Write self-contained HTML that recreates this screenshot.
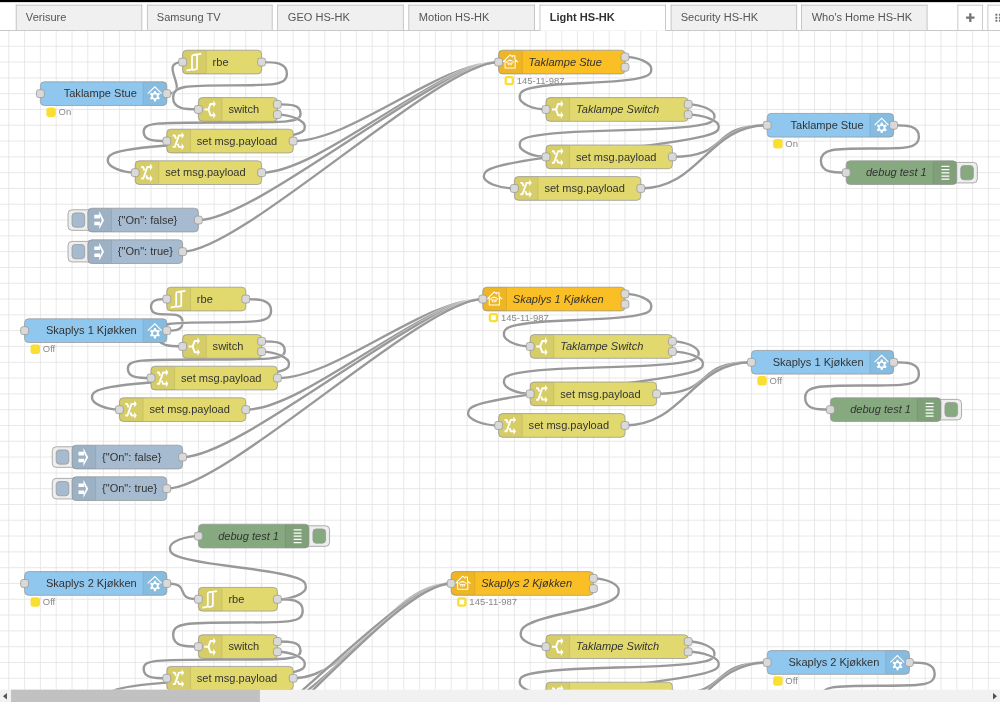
<!DOCTYPE html>
<html><head><meta charset="utf-8"><style>
html,body{margin:0;padding:0;background:#fff;overflow:hidden;width:1000px;height:702px}
#wrap{filter:blur(0.3px);position:absolute;left:0;top:0;width:1265.82px;height:888.61px;transform:scale(0.79);transform-origin:0 0;font-family:"Liberation Sans",sans-serif;overflow:hidden}
#hdr{position:absolute;left:0;top:0;right:0;height:2.6px;background:#000}
#tabs{position:absolute;left:0;top:2.6px;right:0;height:35.96px;box-sizing:border-box;border-bottom:1px solid #bbb;background:#fff}
.tab{position:absolute;top:3.9px;height:31.06px;box-sizing:border-box;border:1px solid #bbb;border-bottom:none;background:#f0f0f0;color:#555;font-size:14px;line-height:30px;padding-left:12px;white-space:nowrap}
.tab.act{background:#fff;color:#333;font-weight:bold;height:32.06px}
.btn{position:absolute;top:3.9px;height:31.06px;box-sizing:border-box;border:1px solid #bbb;border-bottom:none;background:#fff}
#chart{position:absolute;left:0;top:0}
.nl{font-size:14px;fill:#333}
.sl{font-size:12px;fill:#888}
.port{fill:#d9d9d9;stroke:#999;stroke-width:1}
.lo{stroke:#fff;stroke-width:5;fill:none;stroke-opacity:0.4}
.ll{stroke:#999;stroke-width:3;fill:none}
#sb{position:absolute;left:0;top:873.3px;width:100%;height:15.4px;background:#f1f1f1}
#thumb{position:absolute;left:14.05px;top:0;width:314.8px;height:15.4px;background:#c1c1c1}
</style></head><body><div id="wrap">
<svg id="chart" width="1265.82" height="888.61" viewBox="0 0 1265.82 888.61" font-family="Liberation Sans, sans-serif"><path d="M11.14 38.56 V888.61 M31.14 38.56 V888.61 M51.14 38.56 V888.61 M71.14 38.56 V888.61 M91.14 38.56 V888.61 M111.14 38.56 V888.61 M131.14 38.56 V888.61 M151.14 38.56 V888.61 M171.14 38.56 V888.61 M191.14 38.56 V888.61 M211.14 38.56 V888.61 M231.14 38.56 V888.61 M251.14 38.56 V888.61 M271.14 38.56 V888.61 M291.14 38.56 V888.61 M311.14 38.56 V888.61 M331.14 38.56 V888.61 M351.14 38.56 V888.61 M371.14 38.56 V888.61 M391.14 38.56 V888.61 M411.14 38.56 V888.61 M431.14 38.56 V888.61 M451.14 38.56 V888.61 M471.14 38.56 V888.61 M491.14 38.56 V888.61 M511.14 38.56 V888.61 M531.14 38.56 V888.61 M551.14 38.56 V888.61 M571.14 38.56 V888.61 M591.14 38.56 V888.61 M611.14 38.56 V888.61 M631.14 38.56 V888.61 M651.14 38.56 V888.61 M671.14 38.56 V888.61 M691.14 38.56 V888.61 M711.14 38.56 V888.61 M731.14 38.56 V888.61 M751.14 38.56 V888.61 M771.14 38.56 V888.61 M791.14 38.56 V888.61 M811.14 38.56 V888.61 M831.14 38.56 V888.61 M851.14 38.56 V888.61 M871.14 38.56 V888.61 M891.14 38.56 V888.61 M911.14 38.56 V888.61 M931.14 38.56 V888.61 M951.14 38.56 V888.61 M971.14 38.56 V888.61 M991.14 38.56 V888.61 M1011.14 38.56 V888.61 M1031.14 38.56 V888.61 M1051.14 38.56 V888.61 M1071.14 38.56 V888.61 M1091.14 38.56 V888.61 M1111.14 38.56 V888.61 M1131.14 38.56 V888.61 M1151.14 38.56 V888.61 M1171.14 38.56 V888.61 M1191.14 38.56 V888.61 M1211.14 38.56 V888.61 M1231.14 38.56 V888.61 M1251.14 38.56 V888.61 M0 38.56 H1265.82 M0 58.56 H1265.82 M0 78.56 H1265.82 M0 98.56 H1265.82 M0 118.56 H1265.82 M0 138.56 H1265.82 M0 158.56 H1265.82 M0 178.56 H1265.82 M0 198.56 H1265.82 M0 218.56 H1265.82 M0 238.56 H1265.82 M0 258.56 H1265.82 M0 278.56 H1265.82 M0 298.56 H1265.82 M0 318.56 H1265.82 M0 338.56 H1265.82 M0 358.56 H1265.82 M0 378.56 H1265.82 M0 398.56 H1265.82 M0 418.56 H1265.82 M0 438.56 H1265.82 M0 458.56 H1265.82 M0 478.56 H1265.82 M0 498.56 H1265.82 M0 518.56 H1265.82 M0 538.56 H1265.82 M0 558.56 H1265.82 M0 578.56 H1265.82 M0 598.56 H1265.82 M0 618.56 H1265.82 M0 638.56 H1265.82 M0 658.56 H1265.82 M0 678.56 H1265.82 M0 698.56 H1265.82 M0 718.56 H1265.82 M0 738.56 H1265.82 M0 758.56 H1265.82 M0 778.56 H1265.82 M0 798.56 H1265.82 M0 818.56 H1265.82 M0 838.56 H1265.82 M0 858.56 H1265.82 M0 878.56 H1265.82" stroke="#e2e2e2" stroke-width="1" fill="none"/><path d="M 211.14 118.56 C 244.68 118.56 197.60 78.56 231.14 78.56" class="lo"/><path d="M 211.14 118.56 C 244.68 118.56 197.60 78.56 231.14 78.56" class="ll"/><path d="M 331.14 78.56 C 347.14 78.56 363.14 78.56 363.14 93.28 S 347.14 108.00 291.00 108.00 S 219.14 108.56 219.14 123.56 S 235.14 138.56 251.14 138.56" class="lo"/><path d="M 331.14 78.56 C 347.14 78.56 363.14 78.56 363.14 93.28 S 347.14 108.00 291.00 108.00 S 219.14 108.56 219.14 123.56 S 235.14 138.56 251.14 138.56" class="ll"/><path d="M 351.14 132.06 C 365.79 132.06 380.44 132.06 380.44 143.53 S 365.79 155.00 281.00 155.00 S 181.84 155.00 181.84 166.78 S 196.49 178.56 211.14 178.56" class="lo"/><path d="M 351.14 132.06 C 365.79 132.06 380.44 132.06 380.44 143.53 S 365.79 155.00 281.00 155.00 S 181.84 155.00 181.84 166.78 S 196.49 178.56 211.14 178.56" class="ll"/><path d="M 351.14 145.06 C 368.49 145.06 385.84 152.56 385.84 160.06 S 385.84 175.06 261.00 181.00 S 136.44 196.06 136.44 203.56 S 153.79 218.56 171.14 218.56" class="lo"/><path d="M 351.14 145.06 C 368.49 145.06 385.84 152.56 385.84 160.06 S 385.84 175.06 261.00 181.00 S 136.44 196.06 136.44 203.56 S 153.79 218.56 171.14 218.56" class="ll"/><path d="M 371.14 178.56 C 446.14 178.56 556.14 78.56 631.14 78.56" class="lo"/><path d="M 371.14 178.56 C 446.14 178.56 556.14 78.56 631.14 78.56" class="ll"/><path d="M 331.14 218.56 C 406.14 218.56 556.14 78.56 631.14 78.56" class="lo"/><path d="M 331.14 218.56 C 406.14 218.56 556.14 78.56 631.14 78.56" class="ll"/><path d="M 251.14 278.56 C 326.14 278.56 556.14 78.56 631.14 78.56" class="lo"/><path d="M 251.14 278.56 C 326.14 278.56 556.14 78.56 631.14 78.56" class="ll"/><path d="M 231.14 318.56 C 306.14 318.56 556.14 78.56 631.14 78.56" class="lo"/><path d="M 231.14 318.56 C 306.14 318.56 556.14 78.56 631.14 78.56" class="ll"/><path d="M 791.14 72.06 C 807.79 72.06 824.44 79.56 824.44 87.06 S 824.44 102.06 741.00 105.00 S 657.84 116.06 657.84 123.56 S 674.49 138.56 691.14 138.56" class="lo"/><path d="M 791.14 72.06 C 807.79 72.06 824.44 79.56 824.44 87.06 S 824.44 102.06 741.00 105.00 S 657.84 116.06 657.84 123.56 S 674.49 138.56 691.14 138.56" class="ll"/><path d="M 871.14 132.06 C 887.79 132.06 904.44 139.56 904.44 147.06 S 904.44 162.06 781.00 165.00 S 657.84 176.06 657.84 183.56 S 674.49 198.56 691.14 198.56" class="lo"/><path d="M 871.14 132.06 C 887.79 132.06 904.44 139.56 904.44 147.06 S 904.44 162.06 781.00 165.00 S 657.84 176.06 657.84 183.56 S 674.49 198.56 691.14 198.56" class="ll"/><path d="M 871.14 145.06 C 890.49 145.06 909.84 152.56 909.84 160.06 S 909.84 175.06 761.00 191.00 S 612.44 216.06 612.44 223.56 S 631.79 238.56 651.14 238.56" class="lo"/><path d="M 871.14 145.06 C 890.49 145.06 909.84 152.56 909.84 160.06 S 909.84 175.06 761.00 191.00 S 612.44 216.06 612.44 223.56 S 631.79 238.56 651.14 238.56" class="ll"/><path d="M 851.14 198.56 C 926.14 198.56 896.14 158.56 971.14 158.56" class="lo"/><path d="M 851.14 198.56 C 926.14 198.56 896.14 158.56 971.14 158.56" class="ll"/><path d="M 811.14 238.56 C 886.14 238.56 896.14 158.56 971.14 158.56" class="lo"/><path d="M 811.14 238.56 C 886.14 238.56 896.14 158.56 971.14 158.56" class="ll"/><path d="M 1131.14 158.56 C 1147.14 158.56 1163.14 158.56 1163.14 173.28 S 1147.14 188.00 1101.00 188.00 S 1039.14 188.56 1039.14 203.56 S 1055.14 218.56 1071.14 218.56" class="lo"/><path d="M 1131.14 158.56 C 1147.14 158.56 1163.14 158.56 1163.14 173.28 S 1147.14 188.00 1101.00 188.00 S 1039.14 188.56 1039.14 203.56 S 1055.14 218.56 1071.14 218.56" class="ll"/><path d="M 211.14 418.56 C 221.14 418.56 231.14 418.56 231.14 408.28 S 221.14 398.00 211.00 398.00 S 191.14 398.00 191.14 388.28 S 201.14 378.56 211.14 378.56" class="lo"/><path d="M 211.14 418.56 C 221.14 418.56 231.14 418.56 231.14 408.28 S 221.14 398.00 211.00 398.00 S 191.14 398.00 191.14 388.28 S 201.14 378.56 211.14 378.56" class="ll"/><path d="M 311.14 378.56 C 327.14 378.56 343.14 378.56 343.14 393.28 S 327.14 408.00 271.00 408.00 S 199.14 408.56 199.14 423.56 S 215.14 438.56 231.14 438.56" class="lo"/><path d="M 311.14 378.56 C 327.14 378.56 343.14 378.56 343.14 393.28 S 327.14 408.00 271.00 408.00 S 199.14 408.56 199.14 423.56 S 215.14 438.56 231.14 438.56" class="ll"/><path d="M 331.14 432.06 C 345.79 432.06 360.44 432.06 360.44 443.53 S 345.79 455.00 261.00 455.00 S 161.84 455.00 161.84 466.78 S 176.49 478.56 191.14 478.56" class="lo"/><path d="M 331.14 432.06 C 345.79 432.06 360.44 432.06 360.44 443.53 S 345.79 455.00 261.00 455.00 S 161.84 455.00 161.84 466.78 S 176.49 478.56 191.14 478.56" class="ll"/><path d="M 331.14 445.06 C 348.49 445.06 365.84 452.56 365.84 460.06 S 365.84 475.06 241.00 481.00 S 116.44 496.06 116.44 503.56 S 133.79 518.56 151.14 518.56" class="lo"/><path d="M 331.14 445.06 C 348.49 445.06 365.84 452.56 365.84 460.06 S 365.84 475.06 241.00 481.00 S 116.44 496.06 116.44 503.56 S 133.79 518.56 151.14 518.56" class="ll"/><path d="M 351.14 478.56 C 426.14 478.56 536.14 378.56 611.14 378.56" class="lo"/><path d="M 351.14 478.56 C 426.14 478.56 536.14 378.56 611.14 378.56" class="ll"/><path d="M 311.14 518.56 C 386.14 518.56 536.14 378.56 611.14 378.56" class="lo"/><path d="M 311.14 518.56 C 386.14 518.56 536.14 378.56 611.14 378.56" class="ll"/><path d="M 231.14 578.56 C 306.14 578.56 536.14 378.56 611.14 378.56" class="lo"/><path d="M 231.14 578.56 C 306.14 578.56 536.14 378.56 611.14 378.56" class="ll"/><path d="M 211.14 618.56 C 286.14 618.56 536.14 378.56 611.14 378.56" class="lo"/><path d="M 211.14 618.56 C 286.14 618.56 536.14 378.56 611.14 378.56" class="ll"/><path d="M 791.14 372.06 C 807.79 372.06 824.44 379.56 824.44 387.06 S 824.44 402.06 731.00 405.00 S 637.84 416.06 637.84 423.56 S 654.49 438.56 671.14 438.56" class="lo"/><path d="M 791.14 372.06 C 807.79 372.06 824.44 379.56 824.44 387.06 S 824.44 402.06 731.00 405.00 S 637.84 416.06 637.84 423.56 S 654.49 438.56 671.14 438.56" class="ll"/><path d="M 851.14 432.06 C 867.79 432.06 884.44 439.56 884.44 447.06 S 884.44 462.06 761.00 465.00 S 637.84 476.06 637.84 483.56 S 654.49 498.56 671.14 498.56" class="lo"/><path d="M 851.14 432.06 C 867.79 432.06 884.44 439.56 884.44 447.06 S 884.44 462.06 761.00 465.00 S 637.84 476.06 637.84 483.56 S 654.49 498.56 671.14 498.56" class="ll"/><path d="M 851.14 445.06 C 870.49 445.06 889.84 452.56 889.84 460.06 S 889.84 475.06 741.00 491.00 S 592.44 516.06 592.44 523.56 S 611.79 538.56 631.14 538.56" class="lo"/><path d="M 851.14 445.06 C 870.49 445.06 889.84 452.56 889.84 460.06 S 889.84 475.06 741.00 491.00 S 592.44 516.06 592.44 523.56 S 611.79 538.56 631.14 538.56" class="ll"/><path d="M 831.14 498.56 C 906.14 498.56 876.14 458.56 951.14 458.56" class="lo"/><path d="M 831.14 498.56 C 906.14 498.56 876.14 458.56 951.14 458.56" class="ll"/><path d="M 791.14 538.56 C 866.14 538.56 876.14 458.56 951.14 458.56" class="lo"/><path d="M 791.14 538.56 C 866.14 538.56 876.14 458.56 951.14 458.56" class="ll"/><path d="M 1131.14 458.56 C 1147.14 458.56 1163.14 458.56 1163.14 473.28 S 1147.14 488.00 1091.00 488.00 S 1019.14 488.56 1019.14 503.56 S 1035.14 518.56 1051.14 518.56" class="lo"/><path d="M 1131.14 458.56 C 1147.14 458.56 1163.14 458.56 1163.14 473.28 S 1147.14 488.00 1091.00 488.00 S 1019.14 488.56 1019.14 503.56 S 1035.14 518.56 1051.14 518.56" class="ll"/><path d="M 211.14 738.56 C 244.68 738.56 217.60 758.56 251.14 758.56" class="lo"/><path d="M 211.14 738.56 C 244.68 738.56 217.60 758.56 251.14 758.56" class="ll"/><path d="M 351.14 758.56 C 369.14 758.56 387.14 751.06 387.14 743.56 S 387.14 728.56 301.00 718.00 S 215.14 701.06 215.14 693.56 S 233.14 678.56 251.14 678.56" class="lo"/><path d="M 351.14 758.56 C 369.14 758.56 387.14 751.06 387.14 743.56 S 387.14 728.56 301.00 718.00 S 215.14 701.06 215.14 693.56 S 233.14 678.56 251.14 678.56" class="ll"/><path d="M 351.14 758.56 C 367.14 758.56 383.14 758.56 383.14 773.28 S 367.14 788.00 301.00 788.00 S 219.14 788.56 219.14 803.56 S 235.14 818.56 251.14 818.56" class="lo"/><path d="M 351.14 758.56 C 367.14 758.56 383.14 758.56 383.14 773.28 S 367.14 788.00 301.00 788.00 S 219.14 788.56 219.14 803.56 S 235.14 818.56 251.14 818.56" class="ll"/><path d="M 351.14 812.06 C 365.79 812.06 380.44 812.06 380.44 823.53 S 365.79 835.00 281.00 835.00 S 181.84 835.00 181.84 846.78 S 196.49 858.56 211.14 858.56" class="lo"/><path d="M 351.14 812.06 C 365.79 812.06 380.44 812.06 380.44 823.53 S 365.79 835.00 281.00 835.00 S 181.84 835.00 181.84 846.78 S 196.49 858.56 211.14 858.56" class="ll"/><path d="M 351.14 825.06 C 368.49 825.06 385.84 832.56 385.84 840.06 S 385.84 855.06 261.00 861.00 S 136.44 876.06 136.44 883.56 S 153.79 898.56 171.14 898.56" class="lo"/><path d="M 351.14 825.06 C 368.49 825.06 385.84 832.56 385.84 840.06 S 385.84 855.06 261.00 861.00 S 136.44 876.06 136.44 883.56 S 153.79 898.56 171.14 898.56" class="ll"/><path d="M 371.14 858.56 C 446.14 858.56 496.14 738.56 571.14 738.56" class="lo"/><path d="M 371.14 858.56 C 446.14 858.56 496.14 738.56 571.14 738.56" class="ll"/><path d="M 331.14 898.56 C 406.14 898.56 496.14 738.56 571.14 738.56" class="lo"/><path d="M 331.14 898.56 C 406.14 898.56 496.14 738.56 571.14 738.56" class="ll"/><path d="M 251.14 958.56 C 326.14 958.56 496.14 738.56 571.14 738.56" class="lo"/><path d="M 251.14 958.56 C 326.14 958.56 496.14 738.56 571.14 738.56" class="ll"/><path d="M 231.14 998.56 C 306.14 998.56 496.14 738.56 571.14 738.56" class="lo"/><path d="M 231.14 998.56 C 306.14 998.56 496.14 738.56 571.14 738.56" class="ll"/><path d="M 751.14 732.06 C 767.14 732.06 783.14 739.56 783.14 747.06 S 783.14 762.06 721.00 775.00 S 659.14 796.06 659.14 803.56 S 675.14 818.56 691.14 818.56" class="lo"/><path d="M 751.14 732.06 C 767.14 732.06 783.14 739.56 783.14 747.06 S 783.14 762.06 721.00 775.00 S 659.14 796.06 659.14 803.56 S 675.14 818.56 691.14 818.56" class="ll"/><path d="M 871.14 812.06 C 887.79 812.06 904.44 819.56 904.44 827.06 S 904.44 842.06 781.00 845.00 S 657.84 856.06 657.84 863.56 S 674.49 878.56 691.14 878.56" class="lo"/><path d="M 871.14 812.06 C 887.79 812.06 904.44 819.56 904.44 827.06 S 904.44 842.06 781.00 845.00 S 657.84 856.06 657.84 863.56 S 674.49 878.56 691.14 878.56" class="ll"/><path d="M 871.14 825.06 C 890.49 825.06 909.84 832.56 909.84 840.06 S 909.84 855.06 761.00 871.00 S 612.44 896.06 612.44 903.56 S 631.79 918.56 651.14 918.56" class="lo"/><path d="M 871.14 825.06 C 890.49 825.06 909.84 832.56 909.84 840.06 S 909.84 855.06 761.00 871.00 S 612.44 896.06 612.44 903.56 S 631.79 918.56 651.14 918.56" class="ll"/><path d="M 851.14 878.56 C 926.14 878.56 896.14 838.56 971.14 838.56" class="lo"/><path d="M 851.14 878.56 C 926.14 878.56 896.14 838.56 971.14 838.56" class="ll"/><path d="M 811.14 918.56 C 886.14 918.56 896.14 838.56 971.14 838.56" class="lo"/><path d="M 811.14 918.56 C 886.14 918.56 896.14 838.56 971.14 838.56" class="ll"/><path d="M 1151.14 838.56 C 1167.14 838.56 1183.14 838.56 1183.14 853.28 S 1167.14 868.00 1111.00 868.00 S 1039.14 868.56 1039.14 883.56 S 1055.14 898.56 1071.14 898.56" class="lo"/><path d="M 1151.14 838.56 C 1167.14 838.56 1183.14 838.56 1183.14 853.28 S 1167.14 868.00 1111.00 868.00 S 1039.14 868.56 1039.14 883.56 S 1055.14 898.56 1071.14 898.56" class="ll"/><g transform="translate(51.14 103.56)"><rect width="160" height="30" rx="5" ry="5" fill="#8FC7EE" stroke="#999" stroke-width="1"/><path d="M130 0 H155 A5 5 0 0 1 160 5 V25 A5 5 0 0 1 155 30 H130 Z" fill="#000" fill-opacity="0.05"/><path d="M130 1 V29" stroke="#000" stroke-opacity="0.1" stroke-width="1"/><g transform="translate(130 0)"><path d="M5.9 14.9 L14.9 6.3 L23.5 14.9" fill="none" stroke="#fff" stroke-width="1.4"/><g transform="translate(15 18.2)"><path fill="#fff" fill-rule="evenodd" d="M-1.72 -4.27 L-1.05 -6.62 L1.05 -6.62 L1.72 -4.27 L2.83 -3.62 L5.21 -4.22 L6.25 -2.40 L4.56 -0.64 L4.56 0.64 L6.25 2.40 L5.21 4.22 L2.83 3.62 L1.72 4.27 L1.05 6.62 L-1.05 6.62 L-1.72 4.27 L-2.83 3.62 L-5.21 4.22 L-6.25 2.40 L-4.56 0.64 L-4.56 -0.64 L-6.25 -2.40 L-5.21 -4.22 L-2.83 -3.62 Z M 2.50 0 A 2.50 2.50 0 1 0 -2.50 0 A 2.50 2.50 0 1 0 2.50 0 Z"/></g></g><text x="122" y="14.9" dy=".35em" text-anchor="end" class="nl">Taklampe Stue</text><rect x="-5" y="10" width="10" height="10" rx="3" ry="3" class="port"/><rect x="155" y="10.0" width="10" height="10" rx="3" ry="3" class="port"/><g transform="translate(3 33)"><rect x="6" y="1" width="9" height="9" rx="2" ry="2" fill="#F9DF31" stroke="#F9DF31" stroke-width="3"/><text x="20" y="9.6" class="sl">On</text></g></g><g transform="translate(231.14 63.56)"><rect width="100" height="30" rx="5" ry="5" fill="#E2D96E" stroke="#999" stroke-width="1"/><path d="M5 0 H30 V30 H5 A5 5 0 0 1 0 25 V5 A5 5 0 0 1 5 0 Z" fill="#000" fill-opacity="0.05"/><path d="M30 1 V29" stroke="#000" stroke-opacity="0.1" stroke-width="1"/><g><path d="M5 25.6 L9.8 24.9 Q11.9 24.6 11.9 22.4 L11.9 8 Q11.9 6.1 13.8 6 L17.2 5.6 Q18.3 5.6 18.3 7 L18.3 22.4 Q18.3 24.1 16.6 24.3 L11.9 24.8" fill="none" stroke="#fff" stroke-width="2.2"/><path d="M14.5 5.9 L23.5 4.6" fill="none" stroke="#fff" stroke-width="2.2"/></g><text x="38" y="14.9" dy=".35em" text-anchor="start" class="nl">rbe</text><rect x="-5" y="10" width="10" height="10" rx="3" ry="3" class="port"/><rect x="95" y="10.0" width="10" height="10" rx="3" ry="3" class="port"/></g><g transform="translate(251.14 123.56)"><rect width="100" height="30" rx="5" ry="5" fill="#E2D96E" stroke="#999" stroke-width="1"/><path d="M5 0 H30 V30 H5 A5 5 0 0 1 0 25 V5 A5 5 0 0 1 5 0 Z" fill="#000" fill-opacity="0.05"/><path d="M30 1 V29" stroke="#000" stroke-opacity="0.1" stroke-width="1"/><g><path d="M7.5 15 H12.7 L15.3 7.95 H19.2 M12.7 15 L15.3 22.2 H19.2" fill="none" stroke="#fff" stroke-width="2.5" stroke-linejoin="round"/><path d="M18.8 3.4 L22 7.95 L18.8 12.5 Z M18.8 17.7 L22 22.2 L18.8 26.7 Z" fill="#fff"/></g><text x="38" y="14.9" dy=".35em" text-anchor="start" class="nl">switch</text><rect x="-5" y="10" width="10" height="10" rx="3" ry="3" class="port"/><rect x="95" y="3.5" width="10" height="10" rx="3" ry="3" class="port"/><rect x="95" y="16.5" width="10" height="10" rx="3" ry="3" class="port"/></g><g transform="translate(211.14 163.56)"><rect width="160" height="30" rx="5" ry="5" fill="#E2D96E" stroke="#999" stroke-width="1"/><path d="M5 0 H30 V30 H5 A5 5 0 0 1 0 25 V5 A5 5 0 0 1 5 0 Z" fill="#000" fill-opacity="0.05"/><path d="M30 1 V29" stroke="#000" stroke-opacity="0.1" stroke-width="1"/><g><path d="M7.5 22.4 H10.2 L15.3 7.9 H19.2 M7.5 7.9 H10 L11.6 12 M13.9 18.4 L15.3 22.3 H19.2" fill="none" stroke="#fff" stroke-width="2.4" stroke-linejoin="round"/><path d="M18.8 3.5 L22 7.9 L18.8 12.3 Z M18.8 17.9 L22 22.3 L18.8 26.7 Z" fill="#fff"/></g><text x="38" y="14.9" dy=".35em" text-anchor="start" class="nl">set msg.payload</text><rect x="-5" y="10" width="10" height="10" rx="3" ry="3" class="port"/><rect x="155" y="10.0" width="10" height="10" rx="3" ry="3" class="port"/></g><g transform="translate(171.14 203.56)"><rect width="160" height="30" rx="5" ry="5" fill="#E2D96E" stroke="#999" stroke-width="1"/><path d="M5 0 H30 V30 H5 A5 5 0 0 1 0 25 V5 A5 5 0 0 1 5 0 Z" fill="#000" fill-opacity="0.05"/><path d="M30 1 V29" stroke="#000" stroke-opacity="0.1" stroke-width="1"/><g><path d="M7.5 22.4 H10.2 L15.3 7.9 H19.2 M7.5 7.9 H10 L11.6 12 M13.9 18.4 L15.3 22.3 H19.2" fill="none" stroke="#fff" stroke-width="2.4" stroke-linejoin="round"/><path d="M18.8 3.5 L22 7.9 L18.8 12.3 Z M18.8 17.9 L22 22.3 L18.8 26.7 Z" fill="#fff"/></g><text x="38" y="14.9" dy=".35em" text-anchor="start" class="nl">set msg.payload</text><rect x="-5" y="10" width="10" height="10" rx="3" ry="3" class="port"/><rect x="155" y="10.0" width="10" height="10" rx="3" ry="3" class="port"/></g><g transform="translate(111.14 263.56)"><g transform="translate(-25 2)"><rect width="32" height="26" rx="5" ry="5" fill="#eee" stroke="#999"/><rect x="5" y="4" width="16" height="18" rx="4" ry="4" fill="#A6BBCF" stroke="#999"/></g><rect width="140" height="30" rx="5" ry="5" fill="#A6BBCF" stroke="#999" stroke-width="1"/><path d="M5 0 H30 V30 H5 A5 5 0 0 1 0 25 V5 A5 5 0 0 1 5 0 Z" fill="#000" fill-opacity="0.05"/><path d="M30 1 V29" stroke="#000" stroke-opacity="0.1" stroke-width="1"/><g><path d="M8.2 8.4 H15.4 V12.9 H8.2 Z M8.2 17.2 H15.4 V21.6 H8.2 Z" fill="#fff"/><path d="M14.5 3.6 L20.5 15.1 L14.5 26.6 L14.5 22.4 L17.8 15.1 L14.5 7.8 Z" fill="#fff"/></g><text x="38" y="14.9" dy=".35em" text-anchor="start" class="nl">{&quot;On&quot;: false}</text><rect x="135" y="10.0" width="10" height="10" rx="3" ry="3" class="port"/></g><g transform="translate(111.14 303.56)"><g transform="translate(-25 2)"><rect width="32" height="26" rx="5" ry="5" fill="#eee" stroke="#999"/><rect x="5" y="4" width="16" height="18" rx="4" ry="4" fill="#A6BBCF" stroke="#999"/></g><rect width="120" height="30" rx="5" ry="5" fill="#A6BBCF" stroke="#999" stroke-width="1"/><path d="M5 0 H30 V30 H5 A5 5 0 0 1 0 25 V5 A5 5 0 0 1 5 0 Z" fill="#000" fill-opacity="0.05"/><path d="M30 1 V29" stroke="#000" stroke-opacity="0.1" stroke-width="1"/><g><path d="M8.2 8.4 H15.4 V12.9 H8.2 Z M8.2 17.2 H15.4 V21.6 H8.2 Z" fill="#fff"/><path d="M14.5 3.6 L20.5 15.1 L14.5 26.6 L14.5 22.4 L17.8 15.1 L14.5 7.8 Z" fill="#fff"/></g><text x="38" y="14.9" dy=".35em" text-anchor="start" class="nl">{&quot;On&quot;: true}</text><rect x="115" y="10.0" width="10" height="10" rx="3" ry="3" class="port"/></g><g transform="translate(631.14 63.56)"><rect width="160" height="30" rx="5" ry="5" fill="#FBBF26" stroke="#999" stroke-width="1"/><path d="M5 0 H30 V30 H5 A5 5 0 0 1 0 25 V5 A5 5 0 0 1 5 0 Z" fill="#000" fill-opacity="0.05"/><path d="M30 1 V29" stroke="#000" stroke-opacity="0.1" stroke-width="1"/><g><path d="M8.2 22.4 L8.2 13 L5.6 14.8 L14.6 5.8 L17.4 8.4 L17.6 6.9 L20.6 6.9 L20.6 11.6 L24.2 14.8 L21 13 L21 22.4 Z" fill="none" stroke="#fff" stroke-width="1.3" stroke-linejoin="round"/><ellipse cx="14.4" cy="14.8" rx="4.6" ry="1.7" fill="none" stroke="#fff" stroke-width="1.2"/><path d="M12.4 13.2 Q14.4 11.2 16.4 13.2" fill="#fff" stroke="#fff" stroke-width="0.8"/><path d="M11.8 16.6 L12.6 19 M14.4 16.8 L14.4 19.2 M17 16.6 L16.2 19" stroke="#fff" stroke-width="1.2" fill="none"/></g><text x="38" y="14.9" dy=".35em" text-anchor="start" class="nl" font-style="italic">Taklampe Stue</text><rect x="-5" y="10" width="10" height="10" rx="3" ry="3" class="port"/><rect x="155" y="3.5" width="10" height="10" rx="3" ry="3" class="port"/><rect x="155" y="16.5" width="10" height="10" rx="3" ry="3" class="port"/><g transform="translate(3 33)"><rect x="6" y="1" width="9" height="9" rx="2" ry="2" fill="#fff" stroke="#F9DF31" stroke-width="3"/><text x="20" y="9.6" class="sl">145-11-987</text></g></g><g transform="translate(691.14 123.56)"><rect width="180" height="30" rx="5" ry="5" fill="#E2D96E" stroke="#999" stroke-width="1"/><path d="M5 0 H30 V30 H5 A5 5 0 0 1 0 25 V5 A5 5 0 0 1 5 0 Z" fill="#000" fill-opacity="0.05"/><path d="M30 1 V29" stroke="#000" stroke-opacity="0.1" stroke-width="1"/><g><path d="M7.5 15 H12.7 L15.3 7.95 H19.2 M12.7 15 L15.3 22.2 H19.2" fill="none" stroke="#fff" stroke-width="2.5" stroke-linejoin="round"/><path d="M18.8 3.4 L22 7.95 L18.8 12.5 Z M18.8 17.7 L22 22.2 L18.8 26.7 Z" fill="#fff"/></g><text x="38" y="14.9" dy=".35em" text-anchor="start" class="nl" font-style="italic">Taklampe Switch</text><rect x="-5" y="10" width="10" height="10" rx="3" ry="3" class="port"/><rect x="175" y="3.5" width="10" height="10" rx="3" ry="3" class="port"/><rect x="175" y="16.5" width="10" height="10" rx="3" ry="3" class="port"/></g><g transform="translate(691.14 183.56)"><rect width="160" height="30" rx="5" ry="5" fill="#E2D96E" stroke="#999" stroke-width="1"/><path d="M5 0 H30 V30 H5 A5 5 0 0 1 0 25 V5 A5 5 0 0 1 5 0 Z" fill="#000" fill-opacity="0.05"/><path d="M30 1 V29" stroke="#000" stroke-opacity="0.1" stroke-width="1"/><g><path d="M7.5 22.4 H10.2 L15.3 7.9 H19.2 M7.5 7.9 H10 L11.6 12 M13.9 18.4 L15.3 22.3 H19.2" fill="none" stroke="#fff" stroke-width="2.4" stroke-linejoin="round"/><path d="M18.8 3.5 L22 7.9 L18.8 12.3 Z M18.8 17.9 L22 22.3 L18.8 26.7 Z" fill="#fff"/></g><text x="38" y="14.9" dy=".35em" text-anchor="start" class="nl">set msg.payload</text><rect x="-5" y="10" width="10" height="10" rx="3" ry="3" class="port"/><rect x="155" y="10.0" width="10" height="10" rx="3" ry="3" class="port"/></g><g transform="translate(651.14 223.56)"><rect width="160" height="30" rx="5" ry="5" fill="#E2D96E" stroke="#999" stroke-width="1"/><path d="M5 0 H30 V30 H5 A5 5 0 0 1 0 25 V5 A5 5 0 0 1 5 0 Z" fill="#000" fill-opacity="0.05"/><path d="M30 1 V29" stroke="#000" stroke-opacity="0.1" stroke-width="1"/><g><path d="M7.5 22.4 H10.2 L15.3 7.9 H19.2 M7.5 7.9 H10 L11.6 12 M13.9 18.4 L15.3 22.3 H19.2" fill="none" stroke="#fff" stroke-width="2.4" stroke-linejoin="round"/><path d="M18.8 3.5 L22 7.9 L18.8 12.3 Z M18.8 17.9 L22 22.3 L18.8 26.7 Z" fill="#fff"/></g><text x="38" y="14.9" dy=".35em" text-anchor="start" class="nl">set msg.payload</text><rect x="-5" y="10" width="10" height="10" rx="3" ry="3" class="port"/><rect x="155" y="10.0" width="10" height="10" rx="3" ry="3" class="port"/></g><g transform="translate(971.14 143.56)"><rect width="160" height="30" rx="5" ry="5" fill="#8FC7EE" stroke="#999" stroke-width="1"/><path d="M130 0 H155 A5 5 0 0 1 160 5 V25 A5 5 0 0 1 155 30 H130 Z" fill="#000" fill-opacity="0.05"/><path d="M130 1 V29" stroke="#000" stroke-opacity="0.1" stroke-width="1"/><g transform="translate(130 0)"><path d="M5.9 14.9 L14.9 6.3 L23.5 14.9" fill="none" stroke="#fff" stroke-width="1.4"/><g transform="translate(15 18.2)"><path fill="#fff" fill-rule="evenodd" d="M-1.72 -4.27 L-1.05 -6.62 L1.05 -6.62 L1.72 -4.27 L2.83 -3.62 L5.21 -4.22 L6.25 -2.40 L4.56 -0.64 L4.56 0.64 L6.25 2.40 L5.21 4.22 L2.83 3.62 L1.72 4.27 L1.05 6.62 L-1.05 6.62 L-1.72 4.27 L-2.83 3.62 L-5.21 4.22 L-6.25 2.40 L-4.56 0.64 L-4.56 -0.64 L-6.25 -2.40 L-5.21 -4.22 L-2.83 -3.62 Z M 2.50 0 A 2.50 2.50 0 1 0 -2.50 0 A 2.50 2.50 0 1 0 2.50 0 Z"/></g></g><text x="122" y="14.9" dy=".35em" text-anchor="end" class="nl">Taklampe Stue</text><rect x="-5" y="10" width="10" height="10" rx="3" ry="3" class="port"/><rect x="155" y="10.0" width="10" height="10" rx="3" ry="3" class="port"/><g transform="translate(3 33)"><rect x="6" y="1" width="9" height="9" rx="2" ry="2" fill="#F9DF31" stroke="#F9DF31" stroke-width="3"/><text x="20" y="9.6" class="sl">On</text></g></g><g transform="translate(1071.14 203.56)"><g transform="translate(134 2)"><rect width="32" height="26" rx="5" ry="5" fill="#eee" stroke="#999"/><rect x="11" y="4" width="16" height="18" rx="4" ry="4" fill="#87A980" stroke="#999"/></g><rect width="140" height="30" rx="5" ry="5" fill="#87A980" stroke="#999" stroke-width="1"/><path d="M110 0 H135 A5 5 0 0 1 140 5 V25 A5 5 0 0 1 135 30 H110 Z" fill="#000" fill-opacity="0.05"/><path d="M110 1 V29" stroke="#000" stroke-opacity="0.1" stroke-width="1"/><g transform="translate(110 0)"><path d="M10.6 7.1 H20.6 M10.6 11.2 H20.6 M10.6 15.2 H20.6 M10.6 19.3 H20.6 M10.6 23.3 H20.6" stroke="#fff" stroke-width="1.6"/></g><text x="102" y="14.9" dy=".35em" text-anchor="end" class="nl" font-style="italic">debug test 1</text><rect x="-5" y="10" width="10" height="10" rx="3" ry="3" class="port"/></g><g transform="translate(31.14 403.56)"><rect width="180" height="30" rx="5" ry="5" fill="#8FC7EE" stroke="#999" stroke-width="1"/><path d="M150 0 H175 A5 5 0 0 1 180 5 V25 A5 5 0 0 1 175 30 H150 Z" fill="#000" fill-opacity="0.05"/><path d="M150 1 V29" stroke="#000" stroke-opacity="0.1" stroke-width="1"/><g transform="translate(150 0)"><path d="M5.9 14.9 L14.9 6.3 L23.5 14.9" fill="none" stroke="#fff" stroke-width="1.4"/><g transform="translate(15 18.2)"><path fill="#fff" fill-rule="evenodd" d="M-1.72 -4.27 L-1.05 -6.62 L1.05 -6.62 L1.72 -4.27 L2.83 -3.62 L5.21 -4.22 L6.25 -2.40 L4.56 -0.64 L4.56 0.64 L6.25 2.40 L5.21 4.22 L2.83 3.62 L1.72 4.27 L1.05 6.62 L-1.05 6.62 L-1.72 4.27 L-2.83 3.62 L-5.21 4.22 L-6.25 2.40 L-4.56 0.64 L-4.56 -0.64 L-6.25 -2.40 L-5.21 -4.22 L-2.83 -3.62 Z M 2.50 0 A 2.50 2.50 0 1 0 -2.50 0 A 2.50 2.50 0 1 0 2.50 0 Z"/></g></g><text x="142" y="14.9" dy=".35em" text-anchor="end" class="nl">Skaplys 1 Kjøkken</text><rect x="-5" y="10" width="10" height="10" rx="3" ry="3" class="port"/><rect x="175" y="10.0" width="10" height="10" rx="3" ry="3" class="port"/><g transform="translate(3 33)"><rect x="6" y="1" width="9" height="9" rx="2" ry="2" fill="#F9DF31" stroke="#F9DF31" stroke-width="3"/><text x="20" y="9.6" class="sl">Off</text></g></g><g transform="translate(211.14 363.56)"><rect width="100" height="30" rx="5" ry="5" fill="#E2D96E" stroke="#999" stroke-width="1"/><path d="M5 0 H30 V30 H5 A5 5 0 0 1 0 25 V5 A5 5 0 0 1 5 0 Z" fill="#000" fill-opacity="0.05"/><path d="M30 1 V29" stroke="#000" stroke-opacity="0.1" stroke-width="1"/><g><path d="M5 25.6 L9.8 24.9 Q11.9 24.6 11.9 22.4 L11.9 8 Q11.9 6.1 13.8 6 L17.2 5.6 Q18.3 5.6 18.3 7 L18.3 22.4 Q18.3 24.1 16.6 24.3 L11.9 24.8" fill="none" stroke="#fff" stroke-width="2.2"/><path d="M14.5 5.9 L23.5 4.6" fill="none" stroke="#fff" stroke-width="2.2"/></g><text x="38" y="14.9" dy=".35em" text-anchor="start" class="nl">rbe</text><rect x="-5" y="10" width="10" height="10" rx="3" ry="3" class="port"/><rect x="95" y="10.0" width="10" height="10" rx="3" ry="3" class="port"/></g><g transform="translate(231.14 423.56)"><rect width="100" height="30" rx="5" ry="5" fill="#E2D96E" stroke="#999" stroke-width="1"/><path d="M5 0 H30 V30 H5 A5 5 0 0 1 0 25 V5 A5 5 0 0 1 5 0 Z" fill="#000" fill-opacity="0.05"/><path d="M30 1 V29" stroke="#000" stroke-opacity="0.1" stroke-width="1"/><g><path d="M7.5 15 H12.7 L15.3 7.95 H19.2 M12.7 15 L15.3 22.2 H19.2" fill="none" stroke="#fff" stroke-width="2.5" stroke-linejoin="round"/><path d="M18.8 3.4 L22 7.95 L18.8 12.5 Z M18.8 17.7 L22 22.2 L18.8 26.7 Z" fill="#fff"/></g><text x="38" y="14.9" dy=".35em" text-anchor="start" class="nl">switch</text><rect x="-5" y="10" width="10" height="10" rx="3" ry="3" class="port"/><rect x="95" y="3.5" width="10" height="10" rx="3" ry="3" class="port"/><rect x="95" y="16.5" width="10" height="10" rx="3" ry="3" class="port"/></g><g transform="translate(191.14 463.56)"><rect width="160" height="30" rx="5" ry="5" fill="#E2D96E" stroke="#999" stroke-width="1"/><path d="M5 0 H30 V30 H5 A5 5 0 0 1 0 25 V5 A5 5 0 0 1 5 0 Z" fill="#000" fill-opacity="0.05"/><path d="M30 1 V29" stroke="#000" stroke-opacity="0.1" stroke-width="1"/><g><path d="M7.5 22.4 H10.2 L15.3 7.9 H19.2 M7.5 7.9 H10 L11.6 12 M13.9 18.4 L15.3 22.3 H19.2" fill="none" stroke="#fff" stroke-width="2.4" stroke-linejoin="round"/><path d="M18.8 3.5 L22 7.9 L18.8 12.3 Z M18.8 17.9 L22 22.3 L18.8 26.7 Z" fill="#fff"/></g><text x="38" y="14.9" dy=".35em" text-anchor="start" class="nl">set msg.payload</text><rect x="-5" y="10" width="10" height="10" rx="3" ry="3" class="port"/><rect x="155" y="10.0" width="10" height="10" rx="3" ry="3" class="port"/></g><g transform="translate(151.14 503.56)"><rect width="160" height="30" rx="5" ry="5" fill="#E2D96E" stroke="#999" stroke-width="1"/><path d="M5 0 H30 V30 H5 A5 5 0 0 1 0 25 V5 A5 5 0 0 1 5 0 Z" fill="#000" fill-opacity="0.05"/><path d="M30 1 V29" stroke="#000" stroke-opacity="0.1" stroke-width="1"/><g><path d="M7.5 22.4 H10.2 L15.3 7.9 H19.2 M7.5 7.9 H10 L11.6 12 M13.9 18.4 L15.3 22.3 H19.2" fill="none" stroke="#fff" stroke-width="2.4" stroke-linejoin="round"/><path d="M18.8 3.5 L22 7.9 L18.8 12.3 Z M18.8 17.9 L22 22.3 L18.8 26.7 Z" fill="#fff"/></g><text x="38" y="14.9" dy=".35em" text-anchor="start" class="nl">set msg.payload</text><rect x="-5" y="10" width="10" height="10" rx="3" ry="3" class="port"/><rect x="155" y="10.0" width="10" height="10" rx="3" ry="3" class="port"/></g><g transform="translate(91.14 563.56)"><g transform="translate(-25 2)"><rect width="32" height="26" rx="5" ry="5" fill="#eee" stroke="#999"/><rect x="5" y="4" width="16" height="18" rx="4" ry="4" fill="#A6BBCF" stroke="#999"/></g><rect width="140" height="30" rx="5" ry="5" fill="#A6BBCF" stroke="#999" stroke-width="1"/><path d="M5 0 H30 V30 H5 A5 5 0 0 1 0 25 V5 A5 5 0 0 1 5 0 Z" fill="#000" fill-opacity="0.05"/><path d="M30 1 V29" stroke="#000" stroke-opacity="0.1" stroke-width="1"/><g><path d="M8.2 8.4 H15.4 V12.9 H8.2 Z M8.2 17.2 H15.4 V21.6 H8.2 Z" fill="#fff"/><path d="M14.5 3.6 L20.5 15.1 L14.5 26.6 L14.5 22.4 L17.8 15.1 L14.5 7.8 Z" fill="#fff"/></g><text x="38" y="14.9" dy=".35em" text-anchor="start" class="nl">{&quot;On&quot;: false}</text><rect x="135" y="10.0" width="10" height="10" rx="3" ry="3" class="port"/></g><g transform="translate(91.14 603.56)"><g transform="translate(-25 2)"><rect width="32" height="26" rx="5" ry="5" fill="#eee" stroke="#999"/><rect x="5" y="4" width="16" height="18" rx="4" ry="4" fill="#A6BBCF" stroke="#999"/></g><rect width="120" height="30" rx="5" ry="5" fill="#A6BBCF" stroke="#999" stroke-width="1"/><path d="M5 0 H30 V30 H5 A5 5 0 0 1 0 25 V5 A5 5 0 0 1 5 0 Z" fill="#000" fill-opacity="0.05"/><path d="M30 1 V29" stroke="#000" stroke-opacity="0.1" stroke-width="1"/><g><path d="M8.2 8.4 H15.4 V12.9 H8.2 Z M8.2 17.2 H15.4 V21.6 H8.2 Z" fill="#fff"/><path d="M14.5 3.6 L20.5 15.1 L14.5 26.6 L14.5 22.4 L17.8 15.1 L14.5 7.8 Z" fill="#fff"/></g><text x="38" y="14.9" dy=".35em" text-anchor="start" class="nl">{&quot;On&quot;: true}</text><rect x="115" y="10.0" width="10" height="10" rx="3" ry="3" class="port"/></g><g transform="translate(611.14 363.56)"><rect width="180" height="30" rx="5" ry="5" fill="#FBBF26" stroke="#999" stroke-width="1"/><path d="M5 0 H30 V30 H5 A5 5 0 0 1 0 25 V5 A5 5 0 0 1 5 0 Z" fill="#000" fill-opacity="0.05"/><path d="M30 1 V29" stroke="#000" stroke-opacity="0.1" stroke-width="1"/><g><path d="M8.2 22.4 L8.2 13 L5.6 14.8 L14.6 5.8 L17.4 8.4 L17.6 6.9 L20.6 6.9 L20.6 11.6 L24.2 14.8 L21 13 L21 22.4 Z" fill="none" stroke="#fff" stroke-width="1.3" stroke-linejoin="round"/><ellipse cx="14.4" cy="14.8" rx="4.6" ry="1.7" fill="none" stroke="#fff" stroke-width="1.2"/><path d="M12.4 13.2 Q14.4 11.2 16.4 13.2" fill="#fff" stroke="#fff" stroke-width="0.8"/><path d="M11.8 16.6 L12.6 19 M14.4 16.8 L14.4 19.2 M17 16.6 L16.2 19" stroke="#fff" stroke-width="1.2" fill="none"/></g><text x="38" y="14.9" dy=".35em" text-anchor="start" class="nl" font-style="italic">Skaplys 1 Kjøkken</text><rect x="-5" y="10" width="10" height="10" rx="3" ry="3" class="port"/><rect x="175" y="3.5" width="10" height="10" rx="3" ry="3" class="port"/><rect x="175" y="16.5" width="10" height="10" rx="3" ry="3" class="port"/><g transform="translate(3 33)"><rect x="6" y="1" width="9" height="9" rx="2" ry="2" fill="#fff" stroke="#F9DF31" stroke-width="3"/><text x="20" y="9.6" class="sl">145-11-987</text></g></g><g transform="translate(671.14 423.56)"><rect width="180" height="30" rx="5" ry="5" fill="#E2D96E" stroke="#999" stroke-width="1"/><path d="M5 0 H30 V30 H5 A5 5 0 0 1 0 25 V5 A5 5 0 0 1 5 0 Z" fill="#000" fill-opacity="0.05"/><path d="M30 1 V29" stroke="#000" stroke-opacity="0.1" stroke-width="1"/><g><path d="M7.5 15 H12.7 L15.3 7.95 H19.2 M12.7 15 L15.3 22.2 H19.2" fill="none" stroke="#fff" stroke-width="2.5" stroke-linejoin="round"/><path d="M18.8 3.4 L22 7.95 L18.8 12.5 Z M18.8 17.7 L22 22.2 L18.8 26.7 Z" fill="#fff"/></g><text x="38" y="14.9" dy=".35em" text-anchor="start" class="nl" font-style="italic">Taklampe Switch</text><rect x="-5" y="10" width="10" height="10" rx="3" ry="3" class="port"/><rect x="175" y="3.5" width="10" height="10" rx="3" ry="3" class="port"/><rect x="175" y="16.5" width="10" height="10" rx="3" ry="3" class="port"/></g><g transform="translate(671.14 483.56)"><rect width="160" height="30" rx="5" ry="5" fill="#E2D96E" stroke="#999" stroke-width="1"/><path d="M5 0 H30 V30 H5 A5 5 0 0 1 0 25 V5 A5 5 0 0 1 5 0 Z" fill="#000" fill-opacity="0.05"/><path d="M30 1 V29" stroke="#000" stroke-opacity="0.1" stroke-width="1"/><g><path d="M7.5 22.4 H10.2 L15.3 7.9 H19.2 M7.5 7.9 H10 L11.6 12 M13.9 18.4 L15.3 22.3 H19.2" fill="none" stroke="#fff" stroke-width="2.4" stroke-linejoin="round"/><path d="M18.8 3.5 L22 7.9 L18.8 12.3 Z M18.8 17.9 L22 22.3 L18.8 26.7 Z" fill="#fff"/></g><text x="38" y="14.9" dy=".35em" text-anchor="start" class="nl">set msg.payload</text><rect x="-5" y="10" width="10" height="10" rx="3" ry="3" class="port"/><rect x="155" y="10.0" width="10" height="10" rx="3" ry="3" class="port"/></g><g transform="translate(631.14 523.56)"><rect width="160" height="30" rx="5" ry="5" fill="#E2D96E" stroke="#999" stroke-width="1"/><path d="M5 0 H30 V30 H5 A5 5 0 0 1 0 25 V5 A5 5 0 0 1 5 0 Z" fill="#000" fill-opacity="0.05"/><path d="M30 1 V29" stroke="#000" stroke-opacity="0.1" stroke-width="1"/><g><path d="M7.5 22.4 H10.2 L15.3 7.9 H19.2 M7.5 7.9 H10 L11.6 12 M13.9 18.4 L15.3 22.3 H19.2" fill="none" stroke="#fff" stroke-width="2.4" stroke-linejoin="round"/><path d="M18.8 3.5 L22 7.9 L18.8 12.3 Z M18.8 17.9 L22 22.3 L18.8 26.7 Z" fill="#fff"/></g><text x="38" y="14.9" dy=".35em" text-anchor="start" class="nl">set msg.payload</text><rect x="-5" y="10" width="10" height="10" rx="3" ry="3" class="port"/><rect x="155" y="10.0" width="10" height="10" rx="3" ry="3" class="port"/></g><g transform="translate(951.14 443.56)"><rect width="180" height="30" rx="5" ry="5" fill="#8FC7EE" stroke="#999" stroke-width="1"/><path d="M150 0 H175 A5 5 0 0 1 180 5 V25 A5 5 0 0 1 175 30 H150 Z" fill="#000" fill-opacity="0.05"/><path d="M150 1 V29" stroke="#000" stroke-opacity="0.1" stroke-width="1"/><g transform="translate(150 0)"><path d="M5.9 14.9 L14.9 6.3 L23.5 14.9" fill="none" stroke="#fff" stroke-width="1.4"/><g transform="translate(15 18.2)"><path fill="#fff" fill-rule="evenodd" d="M-1.72 -4.27 L-1.05 -6.62 L1.05 -6.62 L1.72 -4.27 L2.83 -3.62 L5.21 -4.22 L6.25 -2.40 L4.56 -0.64 L4.56 0.64 L6.25 2.40 L5.21 4.22 L2.83 3.62 L1.72 4.27 L1.05 6.62 L-1.05 6.62 L-1.72 4.27 L-2.83 3.62 L-5.21 4.22 L-6.25 2.40 L-4.56 0.64 L-4.56 -0.64 L-6.25 -2.40 L-5.21 -4.22 L-2.83 -3.62 Z M 2.50 0 A 2.50 2.50 0 1 0 -2.50 0 A 2.50 2.50 0 1 0 2.50 0 Z"/></g></g><text x="142" y="14.9" dy=".35em" text-anchor="end" class="nl">Skaplys 1 Kjøkken</text><rect x="-5" y="10" width="10" height="10" rx="3" ry="3" class="port"/><rect x="175" y="10.0" width="10" height="10" rx="3" ry="3" class="port"/><g transform="translate(3 33)"><rect x="6" y="1" width="9" height="9" rx="2" ry="2" fill="#F9DF31" stroke="#F9DF31" stroke-width="3"/><text x="20" y="9.6" class="sl">Off</text></g></g><g transform="translate(1051.14 503.56)"><g transform="translate(134 2)"><rect width="32" height="26" rx="5" ry="5" fill="#eee" stroke="#999"/><rect x="11" y="4" width="16" height="18" rx="4" ry="4" fill="#87A980" stroke="#999"/></g><rect width="140" height="30" rx="5" ry="5" fill="#87A980" stroke="#999" stroke-width="1"/><path d="M110 0 H135 A5 5 0 0 1 140 5 V25 A5 5 0 0 1 135 30 H110 Z" fill="#000" fill-opacity="0.05"/><path d="M110 1 V29" stroke="#000" stroke-opacity="0.1" stroke-width="1"/><g transform="translate(110 0)"><path d="M10.6 7.1 H20.6 M10.6 11.2 H20.6 M10.6 15.2 H20.6 M10.6 19.3 H20.6 M10.6 23.3 H20.6" stroke="#fff" stroke-width="1.6"/></g><text x="102" y="14.9" dy=".35em" text-anchor="end" class="nl" font-style="italic">debug test 1</text><rect x="-5" y="10" width="10" height="10" rx="3" ry="3" class="port"/></g><g transform="translate(251.14 663.56)"><g transform="translate(134 2)"><rect width="32" height="26" rx="5" ry="5" fill="#eee" stroke="#999"/><rect x="11" y="4" width="16" height="18" rx="4" ry="4" fill="#87A980" stroke="#999"/></g><rect width="140" height="30" rx="5" ry="5" fill="#87A980" stroke="#999" stroke-width="1"/><path d="M110 0 H135 A5 5 0 0 1 140 5 V25 A5 5 0 0 1 135 30 H110 Z" fill="#000" fill-opacity="0.05"/><path d="M110 1 V29" stroke="#000" stroke-opacity="0.1" stroke-width="1"/><g transform="translate(110 0)"><path d="M10.6 7.1 H20.6 M10.6 11.2 H20.6 M10.6 15.2 H20.6 M10.6 19.3 H20.6 M10.6 23.3 H20.6" stroke="#fff" stroke-width="1.6"/></g><text x="102" y="14.9" dy=".35em" text-anchor="end" class="nl" font-style="italic">debug test 1</text><rect x="-5" y="10" width="10" height="10" rx="3" ry="3" class="port"/></g><g transform="translate(31.14 723.56)"><rect width="180" height="30" rx="5" ry="5" fill="#8FC7EE" stroke="#999" stroke-width="1"/><path d="M150 0 H175 A5 5 0 0 1 180 5 V25 A5 5 0 0 1 175 30 H150 Z" fill="#000" fill-opacity="0.05"/><path d="M150 1 V29" stroke="#000" stroke-opacity="0.1" stroke-width="1"/><g transform="translate(150 0)"><path d="M5.9 14.9 L14.9 6.3 L23.5 14.9" fill="none" stroke="#fff" stroke-width="1.4"/><g transform="translate(15 18.2)"><path fill="#fff" fill-rule="evenodd" d="M-1.72 -4.27 L-1.05 -6.62 L1.05 -6.62 L1.72 -4.27 L2.83 -3.62 L5.21 -4.22 L6.25 -2.40 L4.56 -0.64 L4.56 0.64 L6.25 2.40 L5.21 4.22 L2.83 3.62 L1.72 4.27 L1.05 6.62 L-1.05 6.62 L-1.72 4.27 L-2.83 3.62 L-5.21 4.22 L-6.25 2.40 L-4.56 0.64 L-4.56 -0.64 L-6.25 -2.40 L-5.21 -4.22 L-2.83 -3.62 Z M 2.50 0 A 2.50 2.50 0 1 0 -2.50 0 A 2.50 2.50 0 1 0 2.50 0 Z"/></g></g><text x="142" y="14.9" dy=".35em" text-anchor="end" class="nl">Skaplys 2 Kjøkken</text><rect x="-5" y="10" width="10" height="10" rx="3" ry="3" class="port"/><rect x="175" y="10.0" width="10" height="10" rx="3" ry="3" class="port"/><g transform="translate(3 33)"><rect x="6" y="1" width="9" height="9" rx="2" ry="2" fill="#F9DF31" stroke="#F9DF31" stroke-width="3"/><text x="20" y="9.6" class="sl">Off</text></g></g><g transform="translate(251.14 743.56)"><rect width="100" height="30" rx="5" ry="5" fill="#E2D96E" stroke="#999" stroke-width="1"/><path d="M5 0 H30 V30 H5 A5 5 0 0 1 0 25 V5 A5 5 0 0 1 5 0 Z" fill="#000" fill-opacity="0.05"/><path d="M30 1 V29" stroke="#000" stroke-opacity="0.1" stroke-width="1"/><g><path d="M5 25.6 L9.8 24.9 Q11.9 24.6 11.9 22.4 L11.9 8 Q11.9 6.1 13.8 6 L17.2 5.6 Q18.3 5.6 18.3 7 L18.3 22.4 Q18.3 24.1 16.6 24.3 L11.9 24.8" fill="none" stroke="#fff" stroke-width="2.2"/><path d="M14.5 5.9 L23.5 4.6" fill="none" stroke="#fff" stroke-width="2.2"/></g><text x="38" y="14.9" dy=".35em" text-anchor="start" class="nl">rbe</text><rect x="-5" y="10" width="10" height="10" rx="3" ry="3" class="port"/><rect x="95" y="10.0" width="10" height="10" rx="3" ry="3" class="port"/></g><g transform="translate(251.14 803.56)"><rect width="100" height="30" rx="5" ry="5" fill="#E2D96E" stroke="#999" stroke-width="1"/><path d="M5 0 H30 V30 H5 A5 5 0 0 1 0 25 V5 A5 5 0 0 1 5 0 Z" fill="#000" fill-opacity="0.05"/><path d="M30 1 V29" stroke="#000" stroke-opacity="0.1" stroke-width="1"/><g><path d="M7.5 15 H12.7 L15.3 7.95 H19.2 M12.7 15 L15.3 22.2 H19.2" fill="none" stroke="#fff" stroke-width="2.5" stroke-linejoin="round"/><path d="M18.8 3.4 L22 7.95 L18.8 12.5 Z M18.8 17.7 L22 22.2 L18.8 26.7 Z" fill="#fff"/></g><text x="38" y="14.9" dy=".35em" text-anchor="start" class="nl">switch</text><rect x="-5" y="10" width="10" height="10" rx="3" ry="3" class="port"/><rect x="95" y="3.5" width="10" height="10" rx="3" ry="3" class="port"/><rect x="95" y="16.5" width="10" height="10" rx="3" ry="3" class="port"/></g><g transform="translate(211.14 843.56)"><rect width="160" height="30" rx="5" ry="5" fill="#E2D96E" stroke="#999" stroke-width="1"/><path d="M5 0 H30 V30 H5 A5 5 0 0 1 0 25 V5 A5 5 0 0 1 5 0 Z" fill="#000" fill-opacity="0.05"/><path d="M30 1 V29" stroke="#000" stroke-opacity="0.1" stroke-width="1"/><g><path d="M7.5 22.4 H10.2 L15.3 7.9 H19.2 M7.5 7.9 H10 L11.6 12 M13.9 18.4 L15.3 22.3 H19.2" fill="none" stroke="#fff" stroke-width="2.4" stroke-linejoin="round"/><path d="M18.8 3.5 L22 7.9 L18.8 12.3 Z M18.8 17.9 L22 22.3 L18.8 26.7 Z" fill="#fff"/></g><text x="38" y="14.9" dy=".35em" text-anchor="start" class="nl">set msg.payload</text><rect x="-5" y="10" width="10" height="10" rx="3" ry="3" class="port"/><rect x="155" y="10.0" width="10" height="10" rx="3" ry="3" class="port"/></g><g transform="translate(171.14 883.56)"><rect width="160" height="30" rx="5" ry="5" fill="#E2D96E" stroke="#999" stroke-width="1"/><path d="M5 0 H30 V30 H5 A5 5 0 0 1 0 25 V5 A5 5 0 0 1 5 0 Z" fill="#000" fill-opacity="0.05"/><path d="M30 1 V29" stroke="#000" stroke-opacity="0.1" stroke-width="1"/><g><path d="M7.5 22.4 H10.2 L15.3 7.9 H19.2 M7.5 7.9 H10 L11.6 12 M13.9 18.4 L15.3 22.3 H19.2" fill="none" stroke="#fff" stroke-width="2.4" stroke-linejoin="round"/><path d="M18.8 3.5 L22 7.9 L18.8 12.3 Z M18.8 17.9 L22 22.3 L18.8 26.7 Z" fill="#fff"/></g><text x="38" y="14.9" dy=".35em" text-anchor="start" class="nl">set msg.payload</text><rect x="-5" y="10" width="10" height="10" rx="3" ry="3" class="port"/><rect x="155" y="10.0" width="10" height="10" rx="3" ry="3" class="port"/></g><g transform="translate(111.14 943.56)"><g transform="translate(-25 2)"><rect width="32" height="26" rx="5" ry="5" fill="#eee" stroke="#999"/><rect x="5" y="4" width="16" height="18" rx="4" ry="4" fill="#A6BBCF" stroke="#999"/></g><rect width="140" height="30" rx="5" ry="5" fill="#A6BBCF" stroke="#999" stroke-width="1"/><path d="M5 0 H30 V30 H5 A5 5 0 0 1 0 25 V5 A5 5 0 0 1 5 0 Z" fill="#000" fill-opacity="0.05"/><path d="M30 1 V29" stroke="#000" stroke-opacity="0.1" stroke-width="1"/><g><path d="M8.2 8.4 H15.4 V12.9 H8.2 Z M8.2 17.2 H15.4 V21.6 H8.2 Z" fill="#fff"/><path d="M14.5 3.6 L20.5 15.1 L14.5 26.6 L14.5 22.4 L17.8 15.1 L14.5 7.8 Z" fill="#fff"/></g><text x="38" y="14.9" dy=".35em" text-anchor="start" class="nl">{&quot;On&quot;: false}</text><rect x="135" y="10.0" width="10" height="10" rx="3" ry="3" class="port"/></g><g transform="translate(111.14 983.56)"><g transform="translate(-25 2)"><rect width="32" height="26" rx="5" ry="5" fill="#eee" stroke="#999"/><rect x="5" y="4" width="16" height="18" rx="4" ry="4" fill="#A6BBCF" stroke="#999"/></g><rect width="120" height="30" rx="5" ry="5" fill="#A6BBCF" stroke="#999" stroke-width="1"/><path d="M5 0 H30 V30 H5 A5 5 0 0 1 0 25 V5 A5 5 0 0 1 5 0 Z" fill="#000" fill-opacity="0.05"/><path d="M30 1 V29" stroke="#000" stroke-opacity="0.1" stroke-width="1"/><g><path d="M8.2 8.4 H15.4 V12.9 H8.2 Z M8.2 17.2 H15.4 V21.6 H8.2 Z" fill="#fff"/><path d="M14.5 3.6 L20.5 15.1 L14.5 26.6 L14.5 22.4 L17.8 15.1 L14.5 7.8 Z" fill="#fff"/></g><text x="38" y="14.9" dy=".35em" text-anchor="start" class="nl">{&quot;On&quot;: true}</text><rect x="115" y="10.0" width="10" height="10" rx="3" ry="3" class="port"/></g><g transform="translate(571.14 723.56)"><rect width="180" height="30" rx="5" ry="5" fill="#FBBF26" stroke="#999" stroke-width="1"/><path d="M5 0 H30 V30 H5 A5 5 0 0 1 0 25 V5 A5 5 0 0 1 5 0 Z" fill="#000" fill-opacity="0.05"/><path d="M30 1 V29" stroke="#000" stroke-opacity="0.1" stroke-width="1"/><g><path d="M8.2 22.4 L8.2 13 L5.6 14.8 L14.6 5.8 L17.4 8.4 L17.6 6.9 L20.6 6.9 L20.6 11.6 L24.2 14.8 L21 13 L21 22.4 Z" fill="none" stroke="#fff" stroke-width="1.3" stroke-linejoin="round"/><ellipse cx="14.4" cy="14.8" rx="4.6" ry="1.7" fill="none" stroke="#fff" stroke-width="1.2"/><path d="M12.4 13.2 Q14.4 11.2 16.4 13.2" fill="#fff" stroke="#fff" stroke-width="0.8"/><path d="M11.8 16.6 L12.6 19 M14.4 16.8 L14.4 19.2 M17 16.6 L16.2 19" stroke="#fff" stroke-width="1.2" fill="none"/></g><text x="38" y="14.9" dy=".35em" text-anchor="start" class="nl" font-style="italic">Skaplys 2 Kjøkken</text><rect x="-5" y="10" width="10" height="10" rx="3" ry="3" class="port"/><rect x="175" y="3.5" width="10" height="10" rx="3" ry="3" class="port"/><rect x="175" y="16.5" width="10" height="10" rx="3" ry="3" class="port"/><g transform="translate(3 33)"><rect x="6" y="1" width="9" height="9" rx="2" ry="2" fill="#fff" stroke="#F9DF31" stroke-width="3"/><text x="20" y="9.6" class="sl">145-11-987</text></g></g><g transform="translate(691.14 803.56)"><rect width="180" height="30" rx="5" ry="5" fill="#E2D96E" stroke="#999" stroke-width="1"/><path d="M5 0 H30 V30 H5 A5 5 0 0 1 0 25 V5 A5 5 0 0 1 5 0 Z" fill="#000" fill-opacity="0.05"/><path d="M30 1 V29" stroke="#000" stroke-opacity="0.1" stroke-width="1"/><g><path d="M7.5 15 H12.7 L15.3 7.95 H19.2 M12.7 15 L15.3 22.2 H19.2" fill="none" stroke="#fff" stroke-width="2.5" stroke-linejoin="round"/><path d="M18.8 3.4 L22 7.95 L18.8 12.5 Z M18.8 17.7 L22 22.2 L18.8 26.7 Z" fill="#fff"/></g><text x="38" y="14.9" dy=".35em" text-anchor="start" class="nl" font-style="italic">Taklampe Switch</text><rect x="-5" y="10" width="10" height="10" rx="3" ry="3" class="port"/><rect x="175" y="3.5" width="10" height="10" rx="3" ry="3" class="port"/><rect x="175" y="16.5" width="10" height="10" rx="3" ry="3" class="port"/></g><g transform="translate(691.14 863.56)"><rect width="160" height="30" rx="5" ry="5" fill="#E2D96E" stroke="#999" stroke-width="1"/><path d="M5 0 H30 V30 H5 A5 5 0 0 1 0 25 V5 A5 5 0 0 1 5 0 Z" fill="#000" fill-opacity="0.05"/><path d="M30 1 V29" stroke="#000" stroke-opacity="0.1" stroke-width="1"/><g><path d="M7.5 22.4 H10.2 L15.3 7.9 H19.2 M7.5 7.9 H10 L11.6 12 M13.9 18.4 L15.3 22.3 H19.2" fill="none" stroke="#fff" stroke-width="2.4" stroke-linejoin="round"/><path d="M18.8 3.5 L22 7.9 L18.8 12.3 Z M18.8 17.9 L22 22.3 L18.8 26.7 Z" fill="#fff"/></g><text x="38" y="14.9" dy=".35em" text-anchor="start" class="nl">set msg.payload</text><rect x="-5" y="10" width="10" height="10" rx="3" ry="3" class="port"/><rect x="155" y="10.0" width="10" height="10" rx="3" ry="3" class="port"/></g><g transform="translate(651.14 903.56)"><rect width="160" height="30" rx="5" ry="5" fill="#E2D96E" stroke="#999" stroke-width="1"/><path d="M5 0 H30 V30 H5 A5 5 0 0 1 0 25 V5 A5 5 0 0 1 5 0 Z" fill="#000" fill-opacity="0.05"/><path d="M30 1 V29" stroke="#000" stroke-opacity="0.1" stroke-width="1"/><g><path d="M7.5 22.4 H10.2 L15.3 7.9 H19.2 M7.5 7.9 H10 L11.6 12 M13.9 18.4 L15.3 22.3 H19.2" fill="none" stroke="#fff" stroke-width="2.4" stroke-linejoin="round"/><path d="M18.8 3.5 L22 7.9 L18.8 12.3 Z M18.8 17.9 L22 22.3 L18.8 26.7 Z" fill="#fff"/></g><text x="38" y="14.9" dy=".35em" text-anchor="start" class="nl">set msg.payload</text><rect x="-5" y="10" width="10" height="10" rx="3" ry="3" class="port"/><rect x="155" y="10.0" width="10" height="10" rx="3" ry="3" class="port"/></g><g transform="translate(971.14 823.56)"><rect width="180" height="30" rx="5" ry="5" fill="#8FC7EE" stroke="#999" stroke-width="1"/><path d="M150 0 H175 A5 5 0 0 1 180 5 V25 A5 5 0 0 1 175 30 H150 Z" fill="#000" fill-opacity="0.05"/><path d="M150 1 V29" stroke="#000" stroke-opacity="0.1" stroke-width="1"/><g transform="translate(150 0)"><path d="M5.9 14.9 L14.9 6.3 L23.5 14.9" fill="none" stroke="#fff" stroke-width="1.4"/><g transform="translate(15 18.2)"><path fill="#fff" fill-rule="evenodd" d="M-1.72 -4.27 L-1.05 -6.62 L1.05 -6.62 L1.72 -4.27 L2.83 -3.62 L5.21 -4.22 L6.25 -2.40 L4.56 -0.64 L4.56 0.64 L6.25 2.40 L5.21 4.22 L2.83 3.62 L1.72 4.27 L1.05 6.62 L-1.05 6.62 L-1.72 4.27 L-2.83 3.62 L-5.21 4.22 L-6.25 2.40 L-4.56 0.64 L-4.56 -0.64 L-6.25 -2.40 L-5.21 -4.22 L-2.83 -3.62 Z M 2.50 0 A 2.50 2.50 0 1 0 -2.50 0 A 2.50 2.50 0 1 0 2.50 0 Z"/></g></g><text x="142" y="14.9" dy=".35em" text-anchor="end" class="nl">Skaplys 2 Kjøkken</text><rect x="-5" y="10" width="10" height="10" rx="3" ry="3" class="port"/><rect x="175" y="10.0" width="10" height="10" rx="3" ry="3" class="port"/><g transform="translate(3 33)"><rect x="6" y="1" width="9" height="9" rx="2" ry="2" fill="#F9DF31" stroke="#F9DF31" stroke-width="3"/><text x="20" y="9.6" class="sl">Off</text></g></g><g transform="translate(1071.14 883.56)"><g transform="translate(134 2)"><rect width="32" height="26" rx="5" ry="5" fill="#eee" stroke="#999"/><rect x="11" y="4" width="16" height="18" rx="4" ry="4" fill="#87A980" stroke="#999"/></g><rect width="140" height="30" rx="5" ry="5" fill="#87A980" stroke="#999" stroke-width="1"/><path d="M110 0 H135 A5 5 0 0 1 140 5 V25 A5 5 0 0 1 135 30 H110 Z" fill="#000" fill-opacity="0.05"/><path d="M110 1 V29" stroke="#000" stroke-opacity="0.1" stroke-width="1"/><g transform="translate(110 0)"><path d="M10.6 7.1 H20.6 M10.6 11.2 H20.6 M10.6 15.2 H20.6 M10.6 19.3 H20.6 M10.6 23.3 H20.6" stroke="#fff" stroke-width="1.6"/></g><text x="102" y="14.9" dy=".35em" text-anchor="end" class="nl" font-style="italic">debug test 1</text><rect x="-5" y="10" width="10" height="10" rx="3" ry="3" class="port"/></g></svg>
<div id="hdr"></div>
<div id="tabs"><div class="tab" style="left:19.75px;width:159.90px">Verisure</div><div class="tab" style="left:185.53px;width:159.90px">Samsung TV</div><div class="tab" style="left:351.31px;width:159.90px">GEO HS-HK</div><div class="tab" style="left:517.09px;width:159.90px">Motion HS-HK</div><div class="tab act" style="left:682.87px;width:159.90px">Light HS-HK</div><div class="tab" style="left:848.65px;width:159.90px">Security HS-HK</div><div class="tab" style="left:1014.43px;width:159.90px">Who&#39;s Home HS-HK</div>
<div class="btn" style="left:1211.7px;width:32.2px"><svg width="30" height="30" style="position:absolute;left:0;top:0"><path d="M9.8 15.3 H20.6 M15.2 9.9 V20.7" stroke="#777" stroke-width="3"/></svg></div>
<div class="btn" style="left:1250px;width:32.2px"><svg width="30" height="30" style="position:absolute;left:0;top:0"><path d="M9 11.6 h2.5 M9 15.4 h2.5 M9 19.2 h2.5 M13.5 11.6 h10 M13.5 15.4 h10 M13.5 19.2 h10" stroke="#777" stroke-width="2.4"/></svg></div>
</div>
<div id="sb"><div id="thumb"></div>
<svg width="16" height="16" style="position:absolute;left:0;top:0"><path d="M3.8 8.3 L8.8 4.1 L8.8 12.6 Z" fill="#505050"/></svg>
<svg width="16" height="16" style="position:absolute;left:1250px;top:0"><path d="M12 8.3 L7 4.1 L7 12.6 Z" fill="#505050"/></svg>
</div>
</div></body></html>
